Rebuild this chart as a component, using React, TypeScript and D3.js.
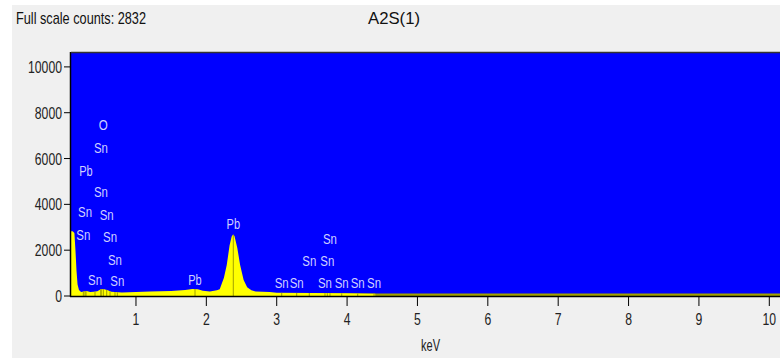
import React from "react";
import * as d3 from "d3";

const TITLE = "Full scale counts: 2832";
const SAMPLE = "A2S(1)";
const X_LABEL = "keV";

const xTicks = [1, 2, 3, 4, 5, 6, 7, 8, 9, 10];
const yTicks = [0, 2000, 4000, 6000, 8000, 10000];

// spectrum (keV, counts)
const energies = [
  0.077, 0.1, 0.125, 0.14, 0.155, 0.17, 0.19, 0.22, 0.26, 0.3, 0.35, 0.4, 0.45, 0.5, 0.55, 0.6, 0.65, 0.7,
  0.8, 1.0, 1.2, 1.5, 1.7, 1.8, 1.88, 1.95, 2.05, 2.15, 2.19, 2.25, 2.29, 2.33, 2.36, 2.38, 2.4, 2.44,
  2.48, 2.53, 2.58, 2.64, 2.7, 2.9, 3.0, 3.5, 4.0, 4.4,
];
const counts = [
  2830, 2830, 2750, 2000, 1100, 500, 260, 180, 200, 220, 180, 190, 210, 290, 300, 250, 190, 170,
  150, 170, 200, 220, 260, 310, 300, 230, 200, 250, 300, 800, 1350, 2200, 2600, 2680, 2620, 2100,
  1350, 700, 380, 250, 200, 170, 140, 130, 115, 100,
];

// element labels: text, energy (keV), label height (counts)
const labelText = [
  "O", "Sn", "Pb", "Sn", "Sn", "Sn", "Sn", "Sn", "Sn", "Sn", "Sn",
  "Pb", "Pb", "Sn", "Sn", "Sn", "Sn", "Sn", "Sn", "Sn", "Sn", "Sn",
];
const labelEnergy = [
  0.536, 0.503, 0.29, 0.503, 0.276, 0.584, 0.252, 0.631, 0.702, 0.418, 0.735,
  1.839, 2.383, 3.071, 3.284, 3.463, 3.719, 3.757, 3.686, 3.924, 4.151, 4.383,
];
const labelCounts = [
  7470, 6460, 5470, 4555, 3680, 3570, 2690, 2590, 1600, 730, 655,
  740, 3144, 600, 600, 1540, 1540, 2520, 600, 600, 600, 600,
];

const W = 780;
const H = 358;
const L = 71;
const T = 52;
const B = 296;
const R = 780;
const FONT = "'Liberation Sans', Arial, sans-serif";

const glyphW: Record<string, number> = { O: 9, Sn: 14, Pb: 13.5 };

export default function App() {
  const x = d3.scaleLinear().domain([0, 10]).range([65.6, 769.3]);
  const y = d3.scaleLinear().domain([0, 10650]).range([B, T]);
  const pts: [number, number][] = energies.map((e, i) => [e, counts[i]]);
  const area = d3
    .area<[number, number]>()
    .x((d) => x(d[0]))
    .y0(y(0))
    .y1((d) => y(d[1]));
  const interp = (e: number) => {
    for (let i = 0; i < energies.length - 1; i++) {
      if (e >= energies[i] && e <= energies[i + 1]) {
        const t = (e - energies[i]) / (energies[i + 1] - energies[i]);
        return counts[i] + t * (counts[i + 1] - counts[i]);
      }
    }
    return 60;
  };
  const numW = (v: number) => String(v).length * 6.8;
  return (
    <svg
      width={W}
      height={H}
      style={{ position: "absolute", left: 0, top: 0, display: "block" }}
      fontFamily={FONT}
    >
      <rect x={0} y={0} width={W} height={H} fill="#ffffff" />
      <rect x={12} y={5} width={W - 12} height={H - 5} fill="#f0f0f0" />
      <text x={16} y={24} fontSize={17} fill="#111" textLength={130} lengthAdjust="spacingAndGlyphs">{TITLE}</text>
      <text x={368} y={24} fontSize={17} fill="#111" textLength={52} lengthAdjust="spacingAndGlyphs">{SAMPLE}</text>
      <defs>
        <clipPath id="plot">
          <rect x={L} y={T} width={R - L} height={B - T + 1} />
        </clipPath>
      </defs>
      <rect x={L} y={T} width={R - L} height={B - T} fill="#0000ff" />
      <g clipPath="url(#plot)">
        <rect x={L} y={B - 2.5} width={R - L} height={2.5} fill="#a0a000" />
        <path d={area(pts) || ""} fill="#ffff00" />
        {labelEnergy.map((e, i) => (
          <line
            key={"m" + i}
            x1={x(e)}
            x2={x(e)}
            y1={y(0)}
            y2={y(interp(e))}
            stroke="#a0a000"
            strokeWidth={1}
          />
        ))}
        {labelText.map((t, i) => (
          <text
            key={"l" + i}
            x={x(labelEnergy[i]) - glyphW[t] / 2}
            y={y(labelCounts[i]) + 5.5}
            fontSize={14.5}
            fill="#d0d0ff"
            textLength={glyphW[t]}
            lengthAdjust="spacingAndGlyphs"
          >
            {t}
          </text>
        ))}
      </g>
      <line x1={L - 0.5} x2={L - 0.5} y1={T} y2={B + 1} stroke="#000" strokeWidth={1.5} />
      <line x1={L} x2={R} y1={T + 0.5} y2={T + 0.5} stroke="#333" strokeWidth={1.5} />
      <line x1={L - 1} x2={R} y1={B + 0.5} y2={B + 0.5} stroke="#000" strokeWidth={1.5} />
      {yTicks.map((v) => (
        <g key={"y" + v}>
          <line x1={L - 7} x2={L - 1} y1={y(v)} y2={y(v)} stroke="#000" strokeWidth={1} />
          <text
            x={L - 9 - numW(v)}
            y={y(v) + 6}
            fontSize={17}
            fill="#222"
            textLength={numW(v)}
            lengthAdjust="spacingAndGlyphs"
          >
            {v}
          </text>
        </g>
      ))}
      {xTicks.map((v) => (
        <g key={"x" + v}>
          <line x1={x(v)} x2={x(v)} y1={B + 1} y2={B + 10} stroke="#000" strokeWidth={1} />
          <text
            x={x(v) - numW(v) / 2}
            y={325}
            fontSize={17}
            fill="#222"
            textLength={numW(v)}
            lengthAdjust="spacingAndGlyphs"
          >
            {v}
          </text>
        </g>
      ))}
      <text x={421} y={351} fontSize={17} fill="#222" textLength={19} lengthAdjust="spacingAndGlyphs">{X_LABEL}</text>
    </svg>
  );
}
